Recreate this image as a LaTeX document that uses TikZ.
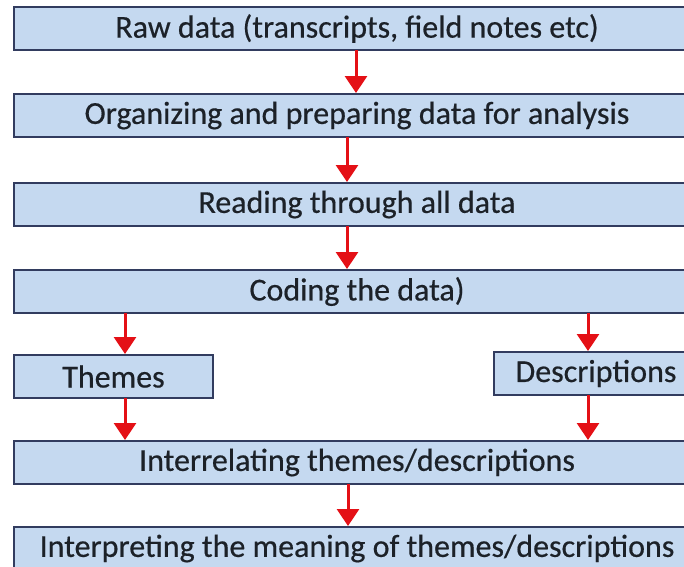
\documentclass[tikz,border=0pt]{standalone}
\usepackage{fontspec}
\newfontfamily\boxfont{Carlito}[FakeBold=0.5]
\usetikzlibrary{arrows.meta}
\definecolor{boxfill}{RGB}{197,217,240}
\definecolor{boxline}{RGB}{50,60,95}
\definecolor{txt}{RGB}{28,33,40}
\definecolor{arr}{RGB}{228,16,22}
\tikzset{
  stage/.style={draw=boxline, line width=2.4pt, fill=boxfill, inner sep=0pt, outer sep=0pt,
    text=txt, font=\boxfont\fontsize{32}{36}\selectfont, anchor=north west},
  flow/.style={draw=arr, line width=3pt, -{Triangle[width=22pt,length=17pt]}, shorten >=1pt}
}
\begin{document}
\begin{tikzpicture}[x=1pt,y=-1pt]
\useasboundingbox (0,0) rectangle (684,566);
\clip (0,0) rectangle (684,566);
\node[stage, minimum width=686pt, minimum height=43pt] (b1) at (14,7) {Raw data (transcripts, field notes etc)};
\node[stage, minimum width=686pt, minimum height=43pt] (b2) at (14,94) {Organizing and preparing data for analysis};
\node[stage, minimum width=686pt, minimum height=43pt] (b3) at (14,183) {Reading through all data};
\node[stage, minimum width=686pt, minimum height=43pt] (b4) at (14,270) {Coding the data)};
\node[stage, minimum width=199pt, minimum height=43pt] (th) at (14,355) {Themes};
\node[stage, minimum width=204pt, minimum height=43pt] (de) at (494,352) {Descriptions};
\node[stage, minimum width=686pt, minimum height=43pt] (b5) at (14,441) {Interrelating themes/descriptions};
\node[stage, minimum width=686pt, minimum height=43pt] (b6) at (14,527) {Interpreting the meaning of themes/descriptions};
\draw[flow] (b1.south -| 356,0) -- (b2.north -| 356,0);
\draw[flow] (b2.south -| 347,0) -- (b3.north -| 347,0);
\draw[flow] (b3.south -| 347,0) -- (b4.north -| 347,0);
\draw[flow] (b4.south -| 125,0) -- (th.north -| 125,0);
\draw[flow] (b4.south -| 588,0) -- (de.north -| 588,0);
\draw[flow] (th.south -| 125,0) -- (b5.north -| 125,0);
\draw[flow] (de.south -| 588,0) -- (b5.north -| 588,0);
\draw[flow] (b5.south -| 348,0) -- (b6.north -| 348,0);
\end{tikzpicture}
\end{document}
